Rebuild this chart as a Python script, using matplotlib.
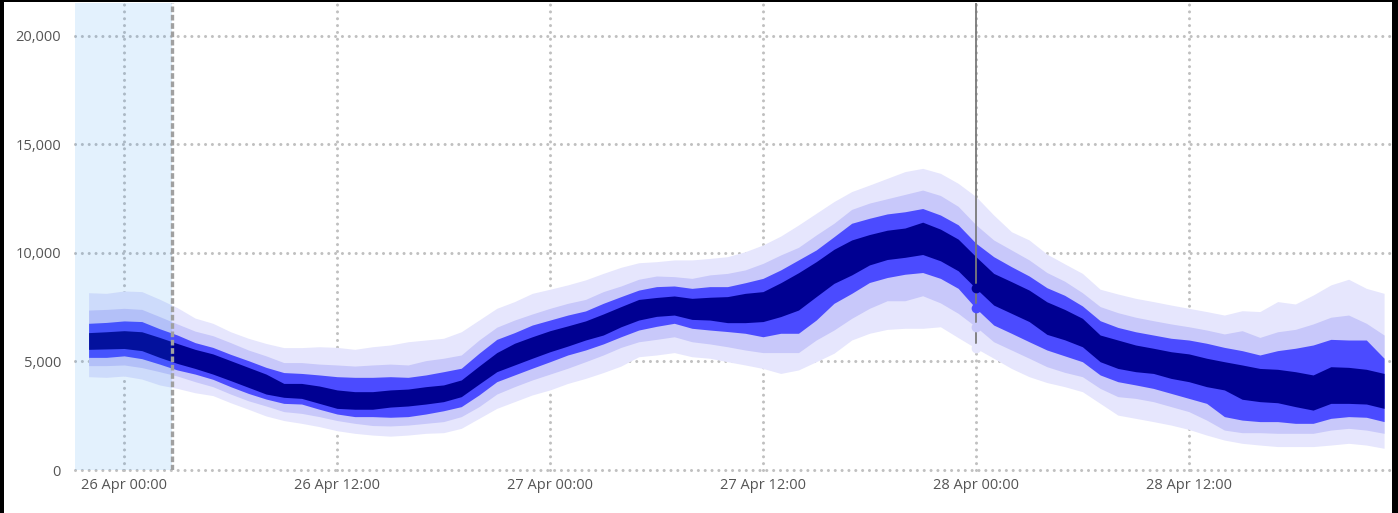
import matplotlib
matplotlib.use("Agg")
import matplotlib.pyplot as plt
import matplotlib.dates as mdates
from matplotlib.patches import Rectangle
import pandas as pd

# hourly forecast, 25 Apr 22:00 .. 28 Apr 23:00 (values in thousands)
times = pd.date_range("2024-04-25 22:00", periods=74, freq="h")

outer_hi = [8.17, 8.14, 8.25, 8.22, 7.87, 7.48, 7.00, 6.76, 6.37, 6.07, 5.83, 5.64, 5.64, 5.68, 5.65, 5.56, 5.68,
            5.76, 5.91, 5.99, 6.07, 6.37, 6.91, 7.45, 7.76, 8.14, 8.33, 8.53, 8.76, 9.06, 9.34, 9.55, 9.60,
            9.68, 9.68, 9.75, 9.83, 10.06, 10.37, 10.78, 11.29, 11.83, 12.37, 12.83, 13.13, 13.44, 13.75, 13.90, 13.67, 13.21, 12.60,
            11.75, 10.98, 10.60, 9.95, 9.50,
            9.06, 8.33, 8.11, 7.91, 7.76, 7.60, 7.45, 7.30, 7.14, 7.34, 7.30, 7.76, 7.65, 8.06, 8.53, 8.79, 8.37, 8.14]
mid_hi = [7.37, 7.40, 7.45, 7.40, 7.07, 6.73, 6.40, 6.19, 5.87, 5.53, 5.26, 4.95, 4.95, 4.88, 4.84, 4.79, 4.84,
          4.88, 4.84, 5.04, 5.15, 5.30, 5.99, 6.58, 6.91, 7.19, 7.45, 7.68, 7.86, 8.22, 8.48, 8.79, 8.94,
          8.91, 8.83, 8.99, 9.06, 9.22, 9.52, 9.91, 10.26, 10.83, 11.37, 12.01, 12.30, 12.50, 12.70, 12.90, 12.65, 12.15, 11.30,
          10.60, 10.14, 9.68, 9.10, 8.70,
          8.17, 7.53, 7.25, 7.04, 6.88, 6.73, 6.60, 6.45, 6.27, 6.42, 6.11, 6.37, 6.48, 6.73, 7.04, 7.14, 6.76, 6.22]
inner_hi = [6.76, 6.80, 6.87, 6.84, 6.51, 6.22, 5.87, 5.65, 5.33, 5.04, 4.73, 4.49, 4.45, 4.38, 4.30, 4.27, 4.27,
            4.30, 4.27, 4.38, 4.53, 4.69, 5.38, 6.02, 6.33, 6.68, 6.91, 7.14, 7.33, 7.68, 7.99, 8.29, 8.45,
            8.48, 8.37, 8.45, 8.45, 8.63, 8.83, 9.22, 9.68, 10.14, 10.75, 11.37, 11.60, 11.80, 11.90, 12.05, 11.75, 11.30, 10.45,
            9.83, 9.37, 8.94, 8.40, 8.05,
            7.56, 6.88, 6.57, 6.37, 6.22, 6.07, 5.99, 5.84, 5.65, 5.50, 5.30, 5.50, 5.61, 5.76, 6.02, 5.99, 5.99, 5.15]
core_hi = [6.33, 6.37, 6.42, 6.37, 6.11, 5.83, 5.56, 5.35, 5.04, 4.73, 4.42, 3.99, 3.99, 3.87, 3.69, 3.61, 3.61,
           3.69, 3.73, 3.84, 3.92, 4.15, 4.79, 5.41, 5.84, 6.14, 6.42, 6.64, 6.87, 7.19, 7.53, 7.86, 7.95,
           8.02, 7.91, 7.96, 7.99, 8.14, 8.22, 8.63, 9.09, 9.60, 10.17, 10.60, 10.85, 11.05, 11.15, 11.42, 11.10, 10.64, 9.83,
           9.06, 8.68, 8.29, 7.75, 7.40,
           6.99, 6.22, 5.99, 5.76, 5.61, 5.45, 5.35, 5.15, 4.99, 4.84, 4.68, 4.64, 4.53, 4.38, 4.76, 4.73, 4.64, 4.45]
core_lo = [5.56, 5.58, 5.60, 5.50, 5.19, 4.91, 4.68, 4.42, 4.12, 3.81, 3.50, 3.35, 3.30, 3.07, 2.84, 2.80, 2.80,
           2.90, 2.95, 3.04, 3.15, 3.38, 3.96, 4.53, 4.84, 5.15, 5.45, 5.71, 5.99, 6.22, 6.60, 6.91, 7.08,
           7.14, 6.94, 6.91, 6.79, 6.79, 6.84, 7.07, 7.37, 7.99, 8.60, 8.99, 9.45, 9.70, 9.80, 9.93, 9.64, 9.18, 8.37,
           7.60, 7.22, 6.84, 6.25, 6.00,
           5.68, 4.99, 4.68, 4.53, 4.45, 4.22, 4.07, 3.84, 3.69, 3.26, 3.15, 3.10, 2.92, 2.76, 3.07, 3.07, 3.04, 2.84]
inner_lo = [5.19, 5.19, 5.26, 5.13, 4.88, 4.61, 4.42, 4.18, 3.84, 3.53, 3.27, 3.07, 3.04, 2.80, 2.58, 2.46, 2.46,
            2.43, 2.46, 2.58, 2.73, 2.92, 3.46, 4.07, 4.38, 4.69, 4.99, 5.30, 5.53, 5.81, 6.14, 6.45, 6.62,
            6.76, 6.53, 6.45, 6.38, 6.30, 6.14, 6.30, 6.30, 6.91, 7.68, 8.14, 8.64, 8.87, 9.02, 9.10, 8.83, 8.37, 7.45,
            6.68, 6.30, 5.91, 5.53, 5.26,
            4.99, 4.38, 4.07, 3.92, 3.76, 3.53, 3.30, 3.07, 2.46, 2.30, 2.23, 2.23, 2.15, 2.15, 2.38, 2.46, 2.43, 2.23]
mid_lo = [4.81, 4.81, 4.84, 4.72, 4.53, 4.33, 4.07, 3.84, 3.50, 3.19, 2.95, 2.69, 2.61, 2.46, 2.28, 2.15, 2.05,
          2.03, 2.07, 2.15, 2.23, 2.46, 2.92, 3.50, 3.84, 4.15, 4.42, 4.69, 4.99, 5.30, 5.65, 5.91, 6.02,
          6.14, 5.91, 5.81, 5.68, 5.53, 5.41, 5.41, 5.41, 5.99, 6.45, 6.99, 7.45, 7.80, 7.80, 8.03, 7.70, 7.22, 6.60,
          5.91, 5.53, 5.15, 4.76, 4.50,
          4.30, 3.76, 3.38, 3.30, 3.15, 2.92, 2.69, 2.30, 1.84, 1.72, 1.72, 1.69, 1.69, 1.69, 1.84, 1.92, 1.84, 1.69]
outer_lo = [4.30, 4.27, 4.33, 4.19, 3.92, 3.76, 3.56, 3.43, 3.10, 2.80, 2.49, 2.28, 2.15, 2.00, 1.81, 1.69, 1.61,
            1.56, 1.61, 1.69, 1.72, 1.92, 2.38, 2.84, 3.15, 3.46, 3.69, 3.99, 4.22, 4.49, 4.79, 5.22, 5.30,
            5.41, 5.22, 5.15, 4.99, 4.84, 4.68, 4.45, 4.61, 4.99, 5.38, 5.99, 6.30, 6.48, 6.53, 6.53, 6.60, 6.10, 5.61,
            5.15, 4.68, 4.30, 4.03, 3.84,
            3.61, 3.07, 2.53, 2.38, 2.23, 2.07, 1.87, 1.61, 1.38, 1.23, 1.15, 1.08, 1.08, 1.08, 1.15, 1.23, 1.15, 1.00]

bands = [
    (outer_lo, outer_hi, "#e6e6fd"),
    (mid_lo, mid_hi, "#c8c8fa"),
    (inner_lo, inner_hi, "#4b4bff"),
    (core_lo, core_hi, "#000092"),
]

now = pd.Timestamp("2024-04-26 02:42")
hover = pd.Timestamp("2024-04-28 00:00")
x_left = pd.Timestamp("2024-04-25 21:14")
x_right = pd.Timestamp("2024-04-28 23:20")

fig = plt.figure(figsize=(13.98, 5.13), dpi=100)
ax = fig.add_axes([75 / 1398, 43 / 513, (1390 - 75) / 1398, (470 - 3) / 513])

grid_kw = dict(color="#c0c0c0", lw=2.2, linestyle=(0, (0.01, 2.23)), dash_capstyle="round",
               zorder=1, clip_on=False)
for v in [0, 5000, 10000, 15000, 20000]:
    ax.axhline(v, **grid_kw)
for d in pd.date_range("2024-04-26", periods=6, freq="12h"):
    ax.axvline(d, **grid_kw)

for lo, hi, col in bands:
    ax.fill_between(times, [v * 1000 for v in lo], [v * 1000 for v in hi], color=col, lw=0, zorder=2)

# history shading and "now" marker
ax.axvspan(x_left, now, color="#1f8ef1", alpha=0.12, lw=0, zorder=3)
ax.axvline(now, color="#a0a0a0", lw=2.4, linestyle=(0, (1.7, 0.8)), zorder=4)

# hover crosshair
ax.plot([hover, hover], [5500, 22000], color="#7a7a7a", lw=1.3, zorder=4)
i = list(times).index(hover)
for lo, _, col in bands:
    ax.plot(hover, lo[i] * 1000, "o", color=col, ms=7, mec="none", zorder=5)

ax.set_xlim(x_left, x_right)
ax.set_ylim(0, 21520)
ax.set_yticks([0, 5000, 10000, 15000, 20000])
ax.set_yticklabels(["0", "5,000", "10,000", "15,000", "20,000"])
ax.set_xticks(pd.date_range("2024-04-26", periods=6, freq="12h"))
ax.xaxis.set_major_formatter(mdates.DateFormatter("%d %b %H:%M"))
for s in ax.spines.values():
    s.set_visible(False)
ax.tick_params(length=0, labelsize=10.5, labelcolor="#555555")
ax.tick_params(axis="y", pad=10)
ax.tick_params(axis="x", pad=6)
for lab in ax.get_xticklabels() + ax.get_yticklabels():
    lab.set_family("Open Sans")

# screenshot frame
for x0, y0, w, h in [(0, 0, 4 / 1398, 1), (0, 1 - 2 / 513, 1, 2 / 513), (1392 / 1398, 0, 6 / 1398, 1)]:
    fig.add_artist(Rectangle((x0, y0), w, h, transform=fig.transFigure, color="black", lw=0))

fig.savefig("out.png", dpi=100)
